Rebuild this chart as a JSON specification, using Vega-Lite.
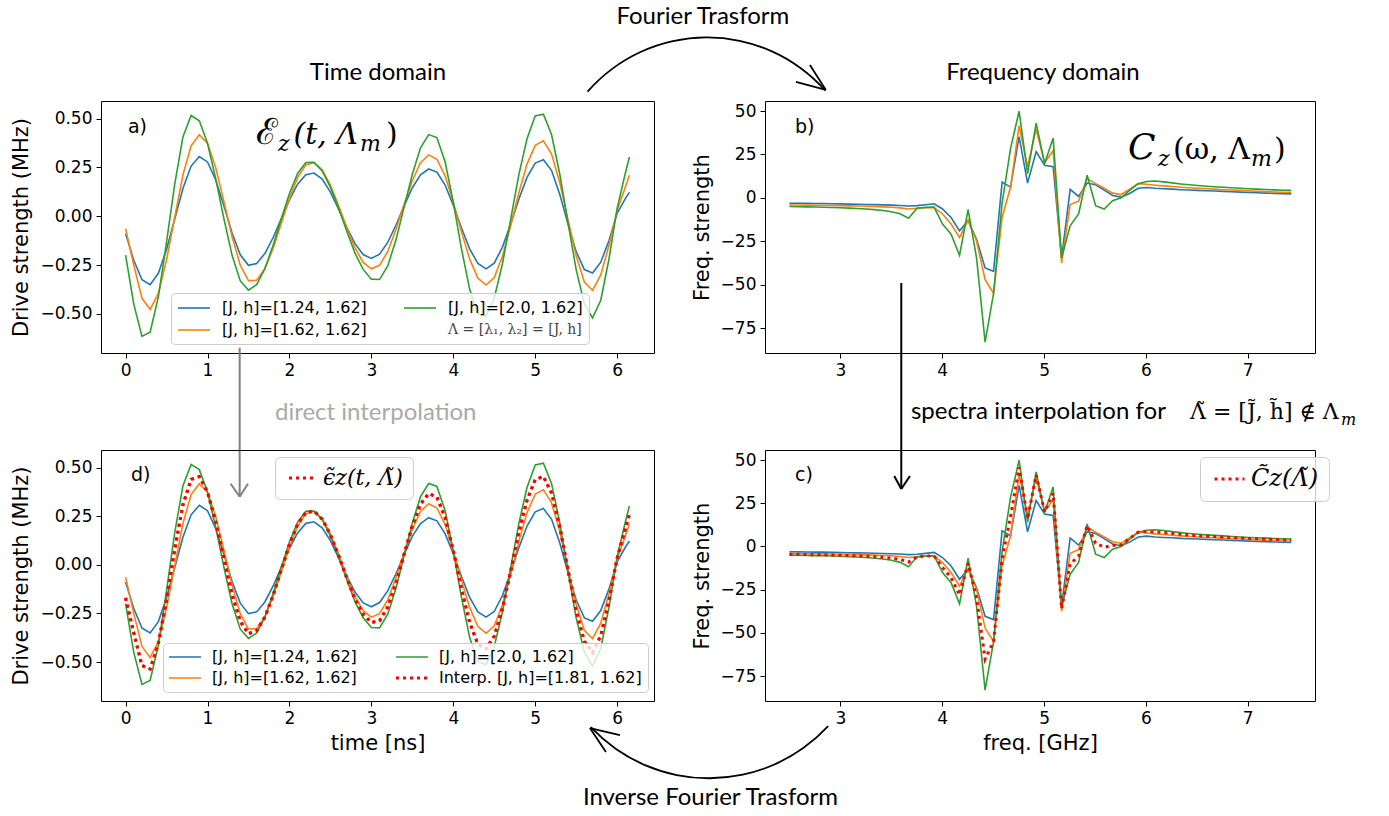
{
"$schema": "https://vega.github.io/schema/vega-lite/v6.json",
"background": "white",
"padding": {"left": 10, "top": 4, "right": 5, "bottom": 5},
"config": {
  "font": "DejaVu Sans",
  "view": {"stroke": "#000", "strokeWidth": 1},
  "axis": {"domain": false, "grid": false, "tickColor": "#000", "tickSize": 5, "tickWidth": 1, "labelFont": "DejaVu Sans", "labelFontSize": 17, "labelColor": "#000", "labelPadding": 4, "titleFont": "DejaVu Sans", "titleFontSize": 21, "titleFontWeight": "normal", "titleColor": "#000"},
  "axisY": {"titlePadding": 8},
  "axisX": {"titlePadding": 6}
},
"datasets": {
"time": [
{"t":0.0,"b":-0.088,"o":-0.063,"g":-0.199,"r":-0.17},
{"t":0.1,"b":-0.225,"o":-0.25,"g":-0.45,"r":-0.35},
{"t":0.2,"b":-0.325,"o":-0.42,"g":-0.615,"r":-0.518},
{"t":0.3,"b":-0.35,"o":-0.477,"g":-0.594,"r":-0.536},
{"t":0.4,"b":-0.292,"o":-0.395,"g":-0.413,"r":-0.404},
{"t":0.5,"b":-0.17,"o":-0.223,"g":-0.133,"r":-0.178},
{"t":0.6,"b":-0.014,"o":-0.005,"g":0.165,"r":0.08},
{"t":0.7,"b":0.142,"o":0.211,"g":0.406,"r":0.309},
{"t":0.8,"b":0.257,"o":0.361,"g":0.516,"r":0.439},
{"t":0.9,"b":0.306,"o":0.417,"g":0.489,"r":0.453},
{"t":1.0,"b":0.278,"o":0.373,"g":0.374,"r":0.374},
{"t":1.1,"b":0.186,"o":0.249,"g":0.193,"r":0.221},
{"t":1.2,"b":0.054,"o":0.076,"g":-0.012,"r":0.032},
{"t":1.3,"b":-0.086,"o":-0.105,"g":-0.2,"r":-0.153},
{"t":1.4,"b":-0.197,"o":-0.251,"g":-0.331,"r":-0.291},
{"t":1.5,"b":-0.251,"o":-0.33,"g":-0.378,"r":-0.354},
{"t":1.6,"b":-0.242,"o":-0.328,"g":-0.35,"r":-0.339},
{"t":1.7,"b":-0.191,"o":-0.268,"g":-0.269,"r":-0.269},
{"t":1.8,"b":-0.11,"o":-0.165,"g":-0.15,"r":-0.158},
{"t":1.9,"b":-0.013,"o":-0.037,"g":-0.014,"r":-0.026},
{"t":2.0,"b":0.084,"o":0.091,"g":0.117,"r":0.104},
{"t":2.1,"b":0.164,"o":0.198,"g":0.219,"r":0.209},
{"t":2.2,"b":0.213,"o":0.263,"g":0.275,"r":0.269},
{"t":2.3,"b":0.221,"o":0.275,"g":0.276,"r":0.276},
{"t":2.4,"b":0.19,"o":0.238,"g":0.232,"r":0.235},
{"t":2.5,"b":0.124,"o":0.159,"g":0.149,"r":0.154},
{"t":2.6,"b":0.036,"o":0.055,"g":0.041,"r":0.048},
{"t":2.7,"b":-0.057,"o":-0.059,"g":-0.077,"r":-0.068},
{"t":2.8,"b":-0.14,"o":-0.162,"g":-0.189,"r":-0.176},
{"t":2.9,"b":-0.196,"o":-0.236,"g":-0.272,"r":-0.254},
{"t":3.0,"b":-0.216,"o":-0.269,"g":-0.322,"r":-0.296},
{"t":3.1,"b":-0.194,"o":-0.251,"g":-0.324,"r":-0.288},
{"t":3.2,"b":-0.134,"o":-0.18,"g":-0.254,"r":-0.217},
{"t":3.3,"b":-0.046,"o":-0.068,"g":-0.122,"r":-0.095},
{"t":3.4,"b":0.053,"o":0.062,"g":0.048,"r":0.055},
{"t":3.5,"b":0.146,"o":0.182,"g":0.215,"r":0.199},
{"t":3.6,"b":0.212,"o":0.274,"g":0.35,"r":0.312},
{"t":3.7,"b":0.242,"o":0.314,"g":0.418,"r":0.366},
{"t":3.8,"b":0.226,"o":0.292,"g":0.403,"r":0.348},
{"t":3.9,"b":0.16,"o":0.207,"g":0.279,"r":0.243},
{"t":4.0,"b":0.057,"o":0.073,"g":0.072,"r":0.073},
{"t":4.1,"b":-0.06,"o":-0.08,"g":-0.167,"r":-0.124},
{"t":4.2,"b":-0.167,"o":-0.219,"g":-0.374,"r":-0.297},
{"t":4.3,"b":-0.242,"o":-0.317,"g":-0.498,"r":-0.408},
{"t":4.4,"b":-0.269,"o":-0.352,"g":-0.512,"r":-0.432},
{"t":4.5,"b":-0.24,"o":-0.314,"g":-0.42,"r":-0.367},
{"t":4.6,"b":-0.158,"o":-0.205,"g":-0.243,"r":-0.224},
{"t":4.7,"b":-0.041,"o":-0.05,"g":-0.017,"r":-0.034},
{"t":4.8,"b":0.087,"o":0.119,"g":0.212,"r":0.166},
{"t":4.9,"b":0.199,"o":0.267,"g":0.397,"r":0.332},
{"t":5.0,"b":0.272,"o":0.363,"g":0.513,"r":0.438},
{"t":5.1,"b":0.289,"o":0.386,"g":0.522,"r":0.454},
{"t":5.2,"b":0.234,"o":0.318,"g":0.417,"r":0.368},
{"t":5.3,"b":0.112,"o":0.172,"g":0.215,"r":0.194},
{"t":5.4,"b":-0.04,"o":-0.018,"g":-0.033,"r":-0.026},
{"t":5.5,"b":-0.181,"o":-0.203,"g":-0.273,"r":-0.238},
{"t":5.6,"b":-0.273,"o":-0.337,"g":-0.449,"r":-0.393},
{"t":5.7,"b":-0.29,"o":-0.38,"g":-0.521,"r":-0.451},
{"t":5.8,"b":-0.235,"o":-0.3,"g":-0.43,"r":-0.365},
{"t":5.9,"b":-0.125,"o":-0.15,"g":-0.22,"r":-0.185},
{"t":6.0,"b":0.015,"o":0.03,"g":0.04,"r":0.035},
{"t":6.1,"b":0.09,"o":0.15,"g":0.22,"r":0.185},
{"t":6.15,"b":0.122,"o":0.21,"g":0.303,"r":0.26}
],
"freq": [
{"f":2.5,"b":-3.1,"o":-4.1,"g":-5.0,"r":-4.55},
{"f":2.584,"b":-3.15,"o":-4.15,"g":-5.1,"r":-4.6},
{"f":2.667,"b":-3.2,"o":-4.2,"g":-5.2,"r":-4.7},
{"f":2.751,"b":-3.25,"o":-4.25,"g":-5.3,"r":-4.8},
{"f":2.834,"b":-3.3,"o":-4.3,"g":-5.4,"r":-4.85},
{"f":2.918,"b":-3.4,"o":-4.4,"g":-5.55,"r":-5.0},
{"f":3.001,"b":-3.5,"o":-4.5,"g":-5.7,"r":-5.1},
{"f":3.085,"b":-3.6,"o":-4.6,"g":-5.9,"r":-5.25},
{"f":3.168,"b":-3.7,"o":-4.7,"g":-6.1,"r":-5.4},
{"f":3.252,"b":-3.8,"o":-4.85,"g":-6.4,"r":-5.6},
{"f":3.335,"b":-3.9,"o":-5.0,"g":-6.8,"r":-5.9},
{"f":3.419,"b":-4.05,"o":-5.2,"g":-7.3,"r":-6.25},
{"f":3.502,"b":-4.2,"o":-5.4,"g":-8.0,"r":-6.7},
{"f":3.586,"b":-4.4,"o":-5.8,"g":-9.2,"r":-7.5},
{"f":3.669,"b":-4.7,"o":-6.4,"g":-11.7,"r":-9.05},
{"f":3.753,"b":-4.5,"o":-6.0,"g":-6.0,"r":-6.0},
{"f":3.836,"b":-4.0,"o":-5.7,"g":-5.5,"r":-5.6},
{"f":3.92,"b":-3.4,"o":-5.6,"g":-5.3,"r":-5.45},
{"f":4.003,"b":-6.4,"o":-9.3,"g":-15.1,"r":-12.2},
{"f":4.087,"b":-11.3,"o":-15.1,"g":-21.0,"r":-18.05},
{"f":4.17,"b":-19.0,"o":-22.9,"g":-33.2,"r":-28.05},
{"f":4.254,"b":-13.2,"o":-12.8,"g":-6.8,"r":-9.8},
{"f":4.337,"b":-23.9,"o":-24.9,"g":-34.6,"r":-29.75},
{"f":4.421,"b":-40.4,"o":-47.2,"g":-83.1,"r":-65.15},
{"f":4.504,"b":-42.3,"o":-55.0,"g":-55.0,"r":-55.0},
{"f":4.588,"b":9.1,"o":-11.3,"g":-3.0,"r":-7.15},
{"f":4.671,"b":6.2,"o":6.2,"g":28.5,"r":17.35},
{"f":4.755,"b":35.3,"o":41.6,"g":49.9,"r":45.75},
{"f":4.838,"b":8.5,"o":17.9,"g":14.0,"r":15.95},
{"f":4.922,"b":26.6,"o":39.6,"g":43.1,"r":41.35},
{"f":5.005,"b":18.8,"o":20.2,"g":19.8,"r":20.0},
{"f":5.089,"b":17.9,"o":27.2,"g":34.4,"r":30.8},
{"f":5.172,"b":-34.6,"o":-37.5,"g":-34.6,"r":-36.05},
{"f":5.256,"b":4.9,"o":-3.9,"g":-16.1,"r":-10.0},
{"f":5.339,"b":0.8,"o":-1.9,"g":-9.3,"r":-5.6},
{"f":5.423,"b":8.5,"o":11.1,"g":13.0,"r":12.05},
{"f":5.506,"b":7.5,"o":8.2,"g":-4.5,"r":1.85},
{"f":5.59,"b":4.5,"o":5.5,"g":-6.4,"r":-0.45},
{"f":5.673,"b":1.4,"o":2.7,"g":-1.6,"r":0.55},
{"f":5.757,"b":0.4,"o":1.9,"g":0.0,"r":0.95},
{"f":5.84,"b":2.5,"o":5.0,"g":4.3,"r":4.65},
{"f":5.924,"b":5.5,"o":8.2,"g":8.2,"r":8.2},
{"f":6.007,"b":6.0,"o":7.8,"g":9.4,"r":8.6},
{"f":6.091,"b":5.5,"o":7.3,"g":9.7,"r":8.5},
{"f":6.174,"b":5.2,"o":6.9,"g":9.2,"r":8.05},
{"f":6.258,"b":5.0,"o":6.5,"g":8.6,"r":7.55},
{"f":6.341,"b":4.7,"o":6.1,"g":8.0,"r":7.05},
{"f":6.425,"b":4.5,"o":5.8,"g":7.5,"r":6.65},
{"f":6.508,"b":4.3,"o":5.5,"g":7.1,"r":6.3},
{"f":6.592,"b":4.1,"o":5.2,"g":6.7,"r":5.95},
{"f":6.675,"b":3.9,"o":5.0,"g":6.4,"r":5.7},
{"f":6.759,"b":3.7,"o":4.7,"g":6.1,"r":5.4},
{"f":6.842,"b":3.5,"o":4.5,"g":5.8,"r":5.15},
{"f":6.926,"b":3.3,"o":4.3,"g":5.5,"r":4.9},
{"f":7.009,"b":3.1,"o":4.0,"g":5.2,"r":4.6},
{"f":7.093,"b":2.9,"o":3.8,"g":5.0,"r":4.4},
{"f":7.176,"b":2.7,"o":3.6,"g":4.8,"r":4.2},
{"f":7.26,"b":2.6,"o":3.4,"g":4.6,"r":4.0},
{"f":7.343,"b":2.4,"o":3.2,"g":4.4,"r":3.8},
{"f":7.427,"b":2.3,"o":3.1,"g":4.3,"r":3.7}
]
},
"columns": 2,
"bounds": "flush",
"spacing": {"row": 97, "column": 111},
"resolve": {"scale": {"color": "independent", "stroke": "independent"}, "legend": {"color": "independent", "stroke": "independent"}},
"concat": [
{
"width": 553, "height": 252,
"layer": [
{
"data": {"name": "time"},
"transform": [{"fold": ["b", "o", "g"], "as": ["series", "v"]}],
"mark": {"type": "line", "strokeWidth": 1.6},
"encoding": {
"x": {"field": "t", "type": "quantitative", "scale": {"domain": [-0.30, 6.45], "nice": false, "zero": false}, "axis": {"values": [0,1,2,3,4,5,6], "format": "d", "title": null}},
"y": {"field": "v", "type": "quantitative", "scale": {"domain": [-0.70, 0.59], "nice": false, "zero": false}, "axis": {"values": [-0.5,-0.25,0,0.25,0.5], "format": ".2f", "title": "Drive strength (MHz)"}},
"color": {"field": "series", "type": "nominal", "scale": {"domain": ["b","o","g","L"], "range": ["#1f77b4","#ff7f0e","#2ca02c","rgba(0,0,0,0)"]},
  "legend": {"orient": "none", "legendX": 70, "legendY": 192, "title": null, "columns": 2,
    "symbolType": "M-1,0H3", "symbolSize": 256, "symbolStrokeWidth": 1.6,
    "labelFont": "DejaVu Sans", "labelFontSize": 16, "labelColor": "#000", "labelOffset": 27, "labelLimit": 400,
    "padding": 6, "rowPadding": 5, "columnPadding": 33,
    "fillColor": "rgba(255,255,255,0.8)", "strokeColor": "#cccccc", "cornerRadius": 4,
    "labelExpr": "datum.value === 'b' ? '[J, h]=[1.24, 1.62]' : datum.value === 'g' ? '[J, h]=[2.0, 1.62]' : datum.value === 'o' ? '[J, h]=[1.62, 1.62]' : 'Λ = [λ₁, λ₂] = [J, h]'",
    "encode": {"labels": {"update": {"font": {"signal": "datum.value === 'L' ? 'DejaVu Serif' : 'DejaVu Sans'"}, "fontSize": {"signal": "datum.value === 'L' ? 14 : 16"}, "fill": {"signal": "datum.value === 'L' ? '#444444' : '#000000'"}}}}
  }}
}
},
{
"data": {"values": [{}]},
"layer": [
{"mark": {"type": "text", "align": "left", "baseline": "middle", "font": "DejaVu Sans", "fontSize": 19, "color": "#000"}, "encoding": {"x": {"datum": 0.029}, "y": {"datum": 0.457}, "text": {"value": "a)"}}},
{"mark": {"type": "text", "align": "left", "baseline": "alphabetic", "font": "DejaVu Serif", "fontSize": 36, "color": "#000"}, "encoding": {"x": {"datum": 1.59}, "y": {"datum": 0.37}, "text": {"value": "ℰ"}}},
{"mark": {"type": "text", "align": "left", "baseline": "alphabetic", "font": "DejaVu Serif", "fontStyle": "italic", "fontSize": 22, "color": "#000"}, "encoding": {"x": {"datum": 1.86}, "y": {"datum": 0.334}, "text": {"value": "z"}}},
{"mark": {"type": "text", "align": "left", "baseline": "alphabetic", "font": "DejaVu Serif", "fontStyle": "italic", "fontSize": 30, "color": "#000"}, "encoding": {"x": {"datum": 2.05}, "y": {"datum": 0.37}, "text": {"value": "(t, Λ"}}},
{"mark": {"type": "text", "align": "left", "baseline": "alphabetic", "font": "DejaVu Serif", "fontStyle": "italic", "fontSize": 22, "color": "#000"}, "encoding": {"x": {"datum": 2.86}, "y": {"datum": 0.334}, "text": {"value": "m"}}},
{"mark": {"type": "text", "align": "left", "baseline": "alphabetic", "font": "DejaVu Serif", "fontSize": 30, "color": "#000"}, "encoding": {"x": {"datum": 3.18}, "y": {"datum": 0.37}, "text": {"value": ")"}}},
{"mark": {"type": "text", "align": "center", "baseline": "middle", "font": "Lato", "fontSize": 24, "color": "#000"}, "encoding": {"x": {"datum": 3.081}, "y": {"datum": 0.734}, "text": {"value": "Time domain"}}},
{"mark": {"type": "text", "align": "center", "baseline": "middle", "font": "Lato", "fontSize": 24, "color": "#000"}, "encoding": {"x": {"datum": 7.047}, "y": {"datum": 1.0205}, "text": {"value": "Fourier Trasform"}}},
{"mark": {"type": "text", "align": "left", "baseline": "middle", "font": "Lato", "fontSize": 24, "color": "#aaaaaa"}, "encoding": {"x": {"datum": 1.8235}, "y": {"datum": -1.0056}, "text": {"value": "direct interpolation"}}},
{"mark": {"type": "arc", "theta": -0.8526, "theta2": 0.843, "radius": 159.4, "radius2": 157.6, "color": "#000"}, "encoding": {"x": {"datum": 7.096}, "y": {"datum": 0.104}}},
{"mark": {"type": "rule", "color": "#000", "strokeWidth": 1.8}, "encoding": {"x": {"datum": 8.548}, "y": {"datum": 0.6467}, "x2": {"datum": 8.182}, "y2": {"datum": 0.6876}}},
{"mark": {"type": "rule", "color": "#000", "strokeWidth": 1.8}, "encoding": {"x": {"datum": 8.548}, "y": {"datum": 0.6467}, "x2": {"datum": 8.353}, "y2": {"datum": 0.7747}}},
{"mark": {"type": "rule", "color": "#808080", "strokeWidth": 2}, "encoding": {"x": {"datum": 1.3927}, "y": {"datum": -0.6728}, "y2": {"datum": -1.4357}}},
{"mark": {"type": "rule", "color": "#808080", "strokeWidth": 2}, "encoding": {"x": {"datum": 1.3927}, "y": {"datum": -1.4357}, "x2": {"datum": 1.2828}, "y2": {"datum": -1.3692}}},
{"mark": {"type": "rule", "color": "#808080", "strokeWidth": 2}, "encoding": {"x": {"datum": 1.3927}, "y": {"datum": -1.4357}, "x2": {"datum": 1.494}, "y2": {"datum": -1.3692}}}
]
}
]
},
{
"width": 550, "height": 252,
"layer": [
{
"data": {"name": "freq"},
"transform": [{"fold": ["b", "o", "g"], "as": ["series", "v"]}],
"mark": {"type": "line", "strokeWidth": 1.6},
"encoding": {
"x": {"field": "f", "type": "quantitative", "scale": {"domain": [2.26, 7.66], "nice": false, "zero": false}, "axis": {"values": [3,4,5,6,7], "format": "d", "title": null}},
"y": {"field": "v", "type": "quantitative", "scale": {"domain": [-89.4, 55.8], "nice": false, "zero": false}, "axis": {"values": [-75,-50,-25,0,25,50], "format": "d", "title": "Freq. strength"}},
"color": {"field": "series", "type": "nominal", "scale": {"domain": ["b","o","g"], "range": ["#1f77b4","#ff7f0e","#2ca02c"]}, "legend": null}
}
},
{
"data": {"values": [{}]},
"layer": [
{"mark": {"type": "text", "align": "left", "baseline": "middle", "font": "DejaVu Sans", "fontSize": 19, "color": "#000"}, "encoding": {"x": {"datum": 2.555}, "y": {"datum": 40.82}, "text": {"value": "b)"}}},
{"mark": {"type": "text", "align": "left", "baseline": "alphabetic", "font": "DejaVu Serif", "fontStyle": "italic", "fontSize": 36, "color": "#000"}, "encoding": {"x": {"datum": 5.824}, "y": {"datum": 22.38}, "text": {"value": "C"}}},
{"mark": {"type": "text", "align": "left", "baseline": "alphabetic", "font": "DejaVu Serif", "fontStyle": "italic", "fontSize": 22, "color": "#000"}, "encoding": {"x": {"datum": 6.119}, "y": {"datum": 18.35}, "text": {"value": "z"}}},
{"mark": {"type": "text", "align": "left", "baseline": "alphabetic", "font": "DejaVu Serif", "fontSize": 30, "color": "#000"}, "encoding": {"x": {"datum": 6.266}, "y": {"datum": 22.38}, "text": {"value": "(ω, Λ"}}},
{"mark": {"type": "text", "align": "left", "baseline": "alphabetic", "font": "DejaVu Serif", "fontStyle": "italic", "fontSize": 22, "color": "#000"}, "encoding": {"x": {"datum": 7.032}, "y": {"datum": 18.35}, "text": {"value": "m"}}},
{"mark": {"type": "text", "align": "left", "baseline": "alphabetic", "font": "DejaVu Serif", "fontSize": 30, "color": "#000"}, "encoding": {"x": {"datum": 7.258}, "y": {"datum": 22.38}, "text": {"value": ")"}}},
{"mark": {"type": "text", "align": "center", "baseline": "middle", "font": "Lato", "fontSize": 24, "color": "#000"}, "encoding": {"x": {"datum": 4.989}, "y": {"datum": 71.93}, "text": {"value": "Frequency domain"}}},
{"mark": {"type": "text", "align": "left", "baseline": "middle", "font": "Lato", "fontSize": 24, "color": "#000"}, "encoding": {"x": {"datum": 3.693}, "y": {"datum": -123.4}, "text": {"value": "spectra interpolation for"}}},
{"mark": {"type": "text", "align": "left", "baseline": "middle", "font": "DejaVu Serif", "fontSize": 22, "color": "#000"}, "encoding": {"x": {"datum": 6.433}, "y": {"datum": -123.4}, "text": {"value": "Λ̃ = [J̃, h̃] ∉ Λ"}}},
{"mark": {"type": "text", "align": "left", "baseline": "middle", "font": "DejaVu Serif", "fontStyle": "italic", "fontSize": 16, "color": "#000"}, "encoding": {"x": {"datum": 7.915}, "y": {"datum": -128.0}, "text": {"value": "m"}}},
{"mark": {"type": "rule", "color": "#000", "strokeWidth": 2}, "encoding": {"x": {"datum": 3.598}, "y": {"datum": -49.07}, "y2": {"datum": -167.77}}},
{"mark": {"type": "rule", "color": "#000", "strokeWidth": 2}, "encoding": {"x": {"datum": 3.598}, "y": {"datum": -167.77}, "x2": {"datum": 3.529}, "y2": {"datum": -160.28}}},
{"mark": {"type": "rule", "color": "#000", "strokeWidth": 2}, "encoding": {"x": {"datum": 3.598}, "y": {"datum": -167.77}, "x2": {"datum": 3.683}, "y2": {"datum": -160.28}}}
]
}
]
},
{
"width": 553, "height": 251,
"layer": [
{
"data": {"name": "time"},
"transform": [{"fold": ["b", "o", "g"], "as": ["series", "v"]}],
"mark": {"type": "line", "strokeWidth": 1.6},
"encoding": {
"x": {"field": "t", "type": "quantitative", "scale": {"domain": [-0.30, 6.45], "nice": false, "zero": false}, "axis": {"values": [0,1,2,3,4,5,6], "format": "d", "title": "time [ns]"}},
"y": {"field": "v", "type": "quantitative", "scale": {"domain": [-0.70, 0.59], "nice": false, "zero": false}, "axis": {"values": [-0.5,-0.25,0,0.25,0.5], "format": ".2f", "title": "Drive strength (MHz)"}},
"color": {"field": "series", "type": "nominal", "scale": {"domain": ["b","o","g","r"], "range": ["#1f77b4","#ff7f0e","#2ca02c","#ff0000"]},
  "legend": {"orient": "none", "legendX": 62, "legendY": 193, "title": null, "columns": 2,
    "symbolType": "M-1,0H3", "symbolSize": 256, "symbolStrokeWidth": 1.6,
    "labelFont": "DejaVu Sans", "labelFontSize": 16, "labelColor": "#000", "labelOffset": 27, "labelLimit": 400,
    "padding": 6, "rowPadding": 5, "columnPadding": 33,
    "fillColor": "rgba(255,255,255,0.8)", "strokeColor": "#cccccc", "cornerRadius": 4,
    "labelExpr": "datum.value === 'b' ? '[J, h]=[1.24, 1.62]' : datum.value === 'g' ? '[J, h]=[2.0, 1.62]' : datum.value === 'o' ? '[J, h]=[1.62, 1.62]' : 'Interp. [J, h]=[1.81, 1.62]'",
    "encode": {"symbols": {"update": {"strokeDash": {"signal": "datum.value === 'r' ? [3, 4] : [1, 0]"}, "strokeWidth": {"signal": "datum.value === 'r' ? 3 : 1.6"}}}}
  }}
}
},
{
"data": {"name": "time"},
"mark": {"type": "line", "strokeWidth": 3, "strokeDash": [3, 4], "strokeCap": "butt"},
"encoding": {
"x": {"field": "t", "type": "quantitative"},
"y": {"field": "r", "type": "quantitative"},
"color": {"datum": "r"}
}
},
{
"data": {"name": "time"},
"mark": {"type": "line", "strokeWidth": 3, "strokeDash": [3, 4], "strokeCap": "butt"},
"encoding": {
"x": {"field": "t", "type": "quantitative"},
"y": {"field": "r", "type": "quantitative"},
"stroke": {"datum": "ϵ̃z(t, Λ̃)", "scale": {"range": ["#ff0000"]},
  "legend": {"orient": "none", "legendX": 174, "legendY": 7, "title": null,
    "symbolType": "M-1,0H3", "symbolSize": 196, "symbolStrokeWidth": 3, "symbolDash": [3, 4],
    "labelFont": "DejaVu Serif", "labelFontSize": 22, "labelFontStyle": "italic", "labelColor": "#000", "labelOffset": 16,
    "padding": 10, "fillColor": "rgba(255,255,255,0.8)", "strokeColor": "#cccccc", "cornerRadius": 5}}
}
},
{
"data": {"values": [{}]},
"layer": [
{"mark": {"type": "text", "align": "left", "baseline": "middle", "font": "DejaVu Sans", "fontSize": 19, "color": "#000"}, "encoding": {"x": {"datum": 0.066}, "y": {"datum": 0.4615}, "text": {"value": "d)"}}},
{"mark": {"type": "text", "align": "center", "baseline": "middle", "font": "Lato", "fontSize": 24, "color": "#000"}, "encoding": {"x": {"datum": 7.139}, "y": {"datum": -1.1986}, "text": {"value": "Inverse Fourier Trasform"}}},
{"mark": {"type": "arc", "theta": 2.317, "theta2": 3.957, "radius": 163.2, "radius2": 161.4, "color": "#000"}, "encoding": {"x": {"datum": 7.121}, "y": {"datum": -0.263}}},
{"mark": {"type": "rule", "color": "#000", "strokeWidth": 1.8}, "encoding": {"x": {"datum": 5.668}, "y": {"datum": -0.839}, "x2": {"datum": 6.034}, "y2": {"datum": -0.875}}},
{"mark": {"type": "rule", "color": "#000", "strokeWidth": 1.8}, "encoding": {"x": {"datum": 5.668}, "y": {"datum": -0.839}, "x2": {"datum": 5.863}, "y2": {"datum": -0.962}}}
]
}
]
},
{
"width": 550, "height": 251,
"layer": [
{
"data": {"name": "freq"},
"transform": [{"fold": ["b", "o", "g"], "as": ["series", "v"]}],
"mark": {"type": "line", "strokeWidth": 1.6},
"encoding": {
"x": {"field": "f", "type": "quantitative", "scale": {"domain": [2.26, 7.66], "nice": false, "zero": false}, "axis": {"values": [3,4,5,6,7], "format": "d", "title": "freq. [GHz]"}},
"y": {"field": "v", "type": "quantitative", "scale": {"domain": [-89.4, 55.8], "nice": false, "zero": false}, "axis": {"values": [-75,-50,-25,0,25,50], "format": "d", "title": "Freq. strength"}},
"color": {"field": "series", "type": "nominal", "scale": {"domain": ["b","o","g"], "range": ["#1f77b4","#ff7f0e","#2ca02c"]}, "legend": null}
}
},
{
"data": {"name": "freq"},
"mark": {"type": "line", "strokeWidth": 3, "strokeDash": [3, 4], "strokeCap": "butt"},
"encoding": {
"x": {"field": "f", "type": "quantitative"},
"y": {"field": "r", "type": "quantitative"},
"stroke": {"datum": "C̃z(Λ̃)", "scale": {"range": ["#ff0000"]},
  "legend": {"orient": "none", "legendX": 435, "legendY": 7, "title": null,
    "symbolType": "M-1,0H3", "symbolSize": 225, "symbolStrokeWidth": 3, "symbolDash": [3, 4],
    "labelFont": "DejaVu Serif", "labelFontSize": 24, "labelFontStyle": "italic", "labelColor": "#000", "labelOffset": 17,
    "padding": 10, "fillColor": "rgba(255,255,255,0.8)", "strokeColor": "#cccccc", "cornerRadius": 5}}
}
},
{
"data": {"values": [{}]},
"layer": [
{"mark": {"type": "text", "align": "left", "baseline": "middle", "font": "DejaVu Sans", "fontSize": 19, "color": "#000"}, "encoding": {"x": {"datum": 2.555}, "y": {"datum": 41.34}, "text": {"value": "c)"}}}
]
}
]
}
]
}
